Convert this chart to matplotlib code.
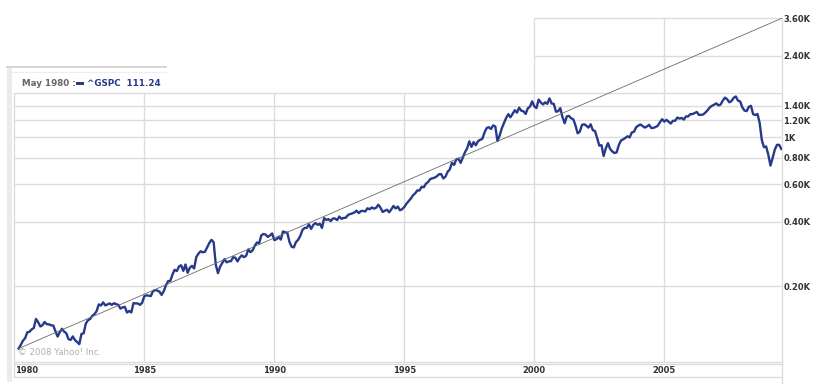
import matplotlib
matplotlib.use('Agg')
import matplotlib.pyplot as plt
import numpy as np
from matplotlib.lines import Line2D
from matplotlib.patches import Rectangle
from matplotlib.ticker import NullLocator

# monthly closes of ^GSPC, starting March 1980
closes_1980s = [
    102.1, 106.3, 111.24, 114.2, 121.7, 122.4, 125.5, 127.5, 140.5, 135.8,
    129.6, 131.3, 136.0, 132.8, 132.6, 131.2, 130.9, 122.8, 116.2, 121.9, 126.4, 122.6,
    120.4, 113.1, 112.0, 116.4, 111.9, 109.6, 107.1, 119.5, 120.4, 133.7, 138.5, 140.6,
    145.3, 148.1, 153.0, 164.4, 162.4, 168.1, 162.6, 164.4, 166.1, 163.6, 166.4, 164.9,
    163.4, 157.1, 159.2, 160.1, 150.6, 153.2, 150.7, 166.7, 166.1, 166.1, 163.6, 167.2,
    179.6, 181.2, 180.7, 179.8, 189.6, 191.9, 190.9, 188.6, 182.1, 189.8, 202.2, 211.3,
    211.8, 226.9, 238.9, 235.5, 247.4, 250.8, 236.1, 252.9, 231.3, 244.0, 249.2, 242.2,
    274.1, 284.2, 291.7, 288.4, 290.1, 304.0, 318.7, 329.8, 321.8, 251.8, 230.3, 247.1,
    257.1, 267.8, 258.9, 261.3, 262.2, 273.5, 272.0, 261.5, 271.9, 279.0, 273.7, 277.7,
    297.5, 288.9, 294.9, 309.6, 320.5, 318.0, 346.1, 351.5, 349.2, 340.4, 346.0, 353.4,
]
closes_1990s = [
    329.1, 331.9, 339.9, 330.8, 361.2, 358.0, 356.2, 322.6, 306.1, 304.0, 322.2, 330.2,
    343.9, 367.1, 375.2, 375.4, 389.8, 371.2, 387.8, 395.4, 387.9, 392.5, 375.2, 417.1,
    408.8, 412.7, 403.7, 415.0, 415.4, 408.1, 424.2, 414.0, 417.8, 418.7, 431.4, 435.7,
    438.8, 443.4, 451.7, 440.2, 450.2, 450.5, 448.1, 463.6, 458.9, 467.8, 461.8, 466.5,
    481.6, 467.1, 445.8, 450.9, 456.5, 444.3, 458.3, 475.5, 462.7, 472.4, 453.7, 459.3,
    470.4, 487.4, 500.7, 514.7, 533.4, 544.8, 562.1, 561.9, 584.4, 581.5, 605.4, 615.9,
    636.0, 640.4, 645.5, 654.2, 669.1, 670.6, 640.0, 652.0, 687.3, 705.3, 757.0, 740.7,
    786.2, 790.8, 757.1, 801.3, 848.3, 885.1, 954.3, 899.5, 947.3, 914.6, 955.4, 970.4,
    980.3, 1049.3, 1101.8, 1111.8, 1090.8, 1133.8, 1120.7, 957.3, 1017.0, 1098.7, 1163.6, 1229.2,
    1279.6, 1238.3, 1286.4, 1335.2, 1301.8, 1372.7, 1328.7, 1320.4, 1282.7, 1362.9, 1388.9, 1469.3,
]
closes_2000s = [
    1394.5, 1366.4, 1498.6, 1452.4, 1420.6, 1454.6, 1430.8, 1517.7, 1436.5, 1429.4, 1315.0, 1320.3,
    1366.0, 1239.9, 1160.3, 1249.5, 1255.8, 1224.4, 1211.2, 1133.6, 1040.9, 1059.8, 1139.5, 1148.1,
    1130.2, 1106.7, 1147.4, 1076.9, 1067.1, 989.8, 911.6, 916.1, 815.3, 885.8, 936.3, 879.8,
    855.7, 841.2, 848.2, 916.9, 963.6, 974.5, 990.3, 1008.0, 996.0, 1050.7, 1058.2, 1111.9,
    1131.1, 1144.9, 1126.2, 1107.3, 1120.7, 1140.8, 1101.7, 1104.2, 1114.6, 1130.2, 1173.8, 1211.9,
    1181.3, 1203.6, 1180.6, 1156.9, 1191.5, 1191.3, 1234.2, 1220.3, 1228.8, 1207.0, 1249.5, 1248.3,
    1280.1, 1280.7, 1294.8, 1310.6, 1270.1, 1270.2, 1276.7, 1303.8, 1335.9, 1377.9, 1400.6, 1418.3,
    1438.2, 1406.8, 1420.9, 1482.4, 1530.6, 1503.4, 1455.3, 1474.0, 1526.8, 1549.4, 1481.1, 1468.4,
    1378.6, 1330.6, 1322.7, 1385.6, 1400.4, 1280.0, 1267.4, 1282.8, 1166.4, 968.8, 896.2, 903.3,
    825.9, 735.1, 797.9, 872.8, 919.1, 919.3, 880.0,
]

year_ticks = [1980, 1985, 1990, 1995, 2000, 2005]
price_ticks = [200, 400, 600, 800, 1000, 1200, 1400, 2400, 3600]
price_labels = ['0.20K', '0.40K', '0.60K', '0.80K', '1K', '1.20K', '1.40K', '2.40K', '3.60K']
trend_start = 102.1
trend_end = 3600

closes = closes_1980s + closes_1990s + closes_2000s
t = 1980 + 2 / 12 + np.arange(len(closes)) / 12

W, H = 829, 391
def fx(x):
    return x / W
def fy(y):
    return 1 - y / H

navy = '#27398a'
grid = '#dcdcdc'
x0, x1 = 1980.0, 2009.515
y0, y1 = 88.6, 3600

fig = plt.figure(figsize=(W / 100, H / 100), dpi=100)
ax = fig.add_axes([fx(14.3), fy(361.7), fx(781.7) - fx(14.3), fy(18.3) - fy(361.7)])
ax.set_yscale('log')
ax.set_xlim(x0, x1)
ax.set_ylim(y0, y1)
for s in ax.spines.values():
    s.set_visible(False)

# grid
ax.hlines([200, 400, 600, 800, 1000, 1200, 1400, 1600], x0, x1, color=grid, lw=1, zorder=1, clip_on=False)
ax.hlines([2400, 3600], 2000, x1, color=grid, lw=1, zorder=1, clip_on=False)
ax.hlines([y0], x0, x1, color=grid, lw=1, zorder=1, clip_on=False)
ax.vlines([1985, 1990, 1995, x0], y0, 1600, color=grid, lw=1, zorder=1, clip_on=False)
ax.vlines([2000, 2005, x1], y0, y1, color=grid, lw=1, zorder=1, clip_on=False)

ax.plot(t, closes, color=navy, lw=1.7, zorder=3, solid_joinstyle='round')
ax.plot([t[0], x1], [trend_start, trend_end], color='#6a6a6a', lw=0.6, zorder=4, clip_on=False)

ax.set_xticks([])
ax.yaxis.tick_right()
ax.set_yticks(price_ticks)
ax.set_yticklabels(price_labels)
ax.yaxis.set_minor_locator(NullLocator())
ax.tick_params(axis='y', length=0, pad=1.2, labelsize=6, labelcolor='#333333')
for lab in ax.get_yticklabels():
    lab.set_fontweight('bold')

# x label strip
for yy in [364, 377.3]:
    fig.add_artist(Line2D([fx(14.3), fx(781.7)], [fy(yy), fy(yy)], color=grid, lw=1))
fig.add_artist(Line2D([fx(781.7), fx(781.7)], [fy(361.7), fy(383)], color=grid, lw=1))
fig.add_artist(Line2D([fx(14.3), fx(14.3)], [fy(361.7), fy(377.3)], color=grid, lw=1))
for yr in year_ticks:
    xp = 14.3 + (yr - x0) / (x1 - x0) * (781.7 - 14.3)
    fig.text(fx(xp + 0.7) if yr == 1980 else fx(xp), fy(370.5), str(yr),
             ha='left' if yr == 1980 else 'center', va='center',
             fontsize=6, fontweight='bold', color='#333333')

# legend panel
fig.add_artist(Rectangle((fx(7), fy(382)), fx(5), fy(66) - fy(382), color='#ebebeb', lw=0))
fig.add_artist(Line2D([fx(7), fx(166)], [fy(66.5), fy(66.5)], color='#d2d2d2', lw=1.3))
fig.add_artist(Line2D([fx(12), fx(166)], [fy(72), fy(72)], color='#eeeeee', lw=0.8))
fig.text(fx(21.7), fy(83.5), 'May 1980 :', fontsize=6.3, fontweight='bold', color='#666666',
         ha='left', va='center')
fig.add_artist(Rectangle((fx(76), fy(84.8)), fx(8), fy(81.6) - fy(84.8), color=navy, lw=0))
fig.text(fx(86.7), fy(83.5), '^GSPC  111.24', fontsize=6.3, fontweight='bold', color=navy,
         ha='left', va='center')

fig.text(fx(18.3), fy(352.7), '\u00a9 2008 Yahoo! Inc.', fontsize=6.2, color='#b0b0b0',
         ha='left', va='center')

fig.savefig('out.png', dpi=100)
